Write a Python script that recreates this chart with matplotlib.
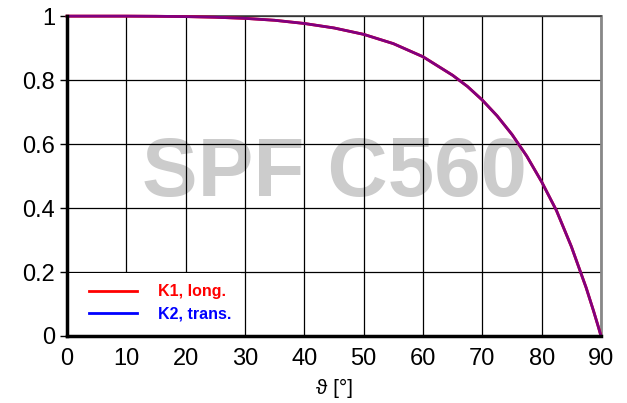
import matplotlib
matplotlib.use("Agg")
import matplotlib.pyplot as plt
from matplotlib.lines import Line2D
from matplotlib.patches import Rectangle

plt.rcParams['font.family'] = ['Liberation Sans', 'DejaVu Sans']

theta = [0, 5, 10, 15, 20, 25, 30, 35, 40, 45, 50, 55, 60, 65, 67.5, 70, 72.5,
         75, 77.5, 80, 82.5, 85, 87.5, 88.75, 89.5, 90]
k1 = [1.0, 1.0, 1.0, 0.9995, 0.9985, 0.9965, 0.993, 0.987, 0.977, 0.963, 0.943,
      0.914, 0.873, 0.815, 0.78, 0.7375, 0.688, 0.63, 0.562, 0.482, 0.392,
      0.28, 0.151, 0.078, 0.032, 0.0]
k2 = list(k1)
labels = ["K1, long.", "K2, trans."]
xticks = [0, 10, 20, 30, 40, 50, 60, 70, 80, 90]
yticks = [0, 0.2, 0.4, 0.6, 0.8, 1]
ytick_labels = ["0", "0.2", "0.4", "0.6", "0.8", "1"]

fig = plt.figure(figsize=(6.27, 4.03), dpi=100)
ax = fig.add_axes([0.1069, 0.1663, 0.8516, 0.7937])

ax.plot(theta, k1, color='red', lw=2, zorder=3, clip_on=False)
ax.plot(theta, k2, color='#800080', lw=2, zorder=3, clip_on=False)

ax.set_xlim(0, 90)
ax.set_ylim(0, 1)
ax.set_xticks(xticks)
ax.set_yticks(yticks)
ax.set_yticklabels(ytick_labels)
ax.grid(True, color='black', lw=0.9)
ax.set_axisbelow(True)
ax.tick_params(axis='y', labelsize=17, length=5, width=1, direction='out')
ax.tick_params(axis='x', labelsize=17, length=0, pad=9)

for s in ['left', 'bottom']:
    ax.spines[s].set_linewidth(2.5)
    ax.spines[s].set_color('black')
    ax.spines[s].set_zorder(10)
ax.spines['top'].set_linewidth(1.2)
ax.spines['top'].set_color('#404040')
ax.spines['top'].set_zorder(2.6)
ax.spines['right'].set_linewidth(2)
ax.spines['right'].set_color('#888888')
ax.spines['right'].set_zorder(2.6)

ax.set_xlabel("ϑ [°]", fontsize=15, labelpad=6)

ax.text(0.5, 0.505, "SPF C560", transform=ax.transAxes, ha='center', va='center',
        fontsize=60, fontweight='bold', color='#cccccc', zorder=0.1)

ax.add_patch(Rectangle((0, 0), 0.325, 0.198, transform=ax.transAxes,
                       facecolor='white', edgecolor='none', zorder=4))

handles = [Line2D([], [], color='red', lw=2), Line2D([], [], color='blue', lw=2)]
leg = ax.legend(handles, labels, loc='center left', bbox_to_anchor=(0.0412, 0.104),
                borderaxespad=0.0, borderpad=0.0, frameon=False,
                prop={'weight': 'bold', 'size': 11.5}, handlelength=3.0,
                handletextpad=1.3, labelspacing=0.45,
                labelcolor=['red', 'blue'])
leg.set_zorder(5)

fig.savefig("out.png", dpi=100)
